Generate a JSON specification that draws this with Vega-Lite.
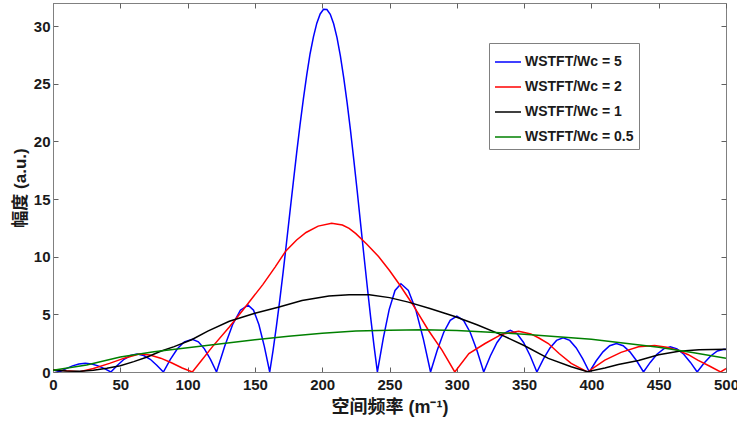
{
  "$schema": "https://vega.github.io/schema/vega-lite/v6.json",
  "autosize": {"type": "none"},
  "padding": {"left": 53, "top": 3, "right": 11, "bottom": 52},
  "width": 673,
  "height": 369,
  "background": "white",
  "config": {
    "view": {"stroke": "#808080", "strokeWidth": 1},
    "font": "Liberation Sans, Noto Sans CJK SC"
  },
  "data": {"values": [
    {"s":"5","x":0,"y":0.2},{"s":"5","x":5,"y":0.02},{"s":"5","x":9.75,"y":0.29},{"s":"5","x":14.5,"y":0.53},{"s":"5","x":19.25,"y":0.69},{"s":"5","x":24,"y":0.75},{"s":"5","x":28.75,"y":0.69},{"s":"5","x":33.5,"y":0.53},{"s":"5","x":38.25,"y":0.29},{"s":"5","x":43,"y":0},
    {"s":"5","x":47.9,"y":0.59},{"s":"5","x":52.75,"y":1.1},{"s":"5","x":57.6,"y":1.43},{"s":"5","x":62.5,"y":1.55},{"s":"5","x":67.4,"y":1.43},{"s":"5","x":72.25,"y":1.1},{"s":"5","x":77.1,"y":0.59},{"s":"5","x":82,"y":0},
    {"s":"5","x":87.2,"y":1.09},{"s":"5","x":92.4,"y":2.01},{"s":"5","x":97.6,"y":2.62},{"s":"5","x":103.5,"y":2.84},{"s":"5","x":108,"y":2.62},{"s":"5","x":112.5,"y":2.01},{"s":"5","x":117,"y":1.09},{"s":"5","x":121.5,"y":0},
    {"s":"5","x":127.5,"y":2.22},{"s":"5","x":133.4,"y":4.1},{"s":"5","x":139.2,"y":5.36},{"s":"5","x":145,"y":5.8},{"s":"5","x":149,"y":5.36},{"s":"5","x":153,"y":4.1},{"s":"5","x":157,"y":2.22},{"s":"5","x":161,"y":0},
    {"s":"5","x":163.5,"y":1.88},{"s":"5","x":166,"y":3.97},{"s":"5","x":168.5,"y":6.26},{"s":"5","x":171,"y":8.69},{"s":"5","x":173.5,"y":11.23},{"s":"5","x":176,"y":13.85},{"s":"5","x":178.5,"y":16.42},{"s":"5","x":181,"y":18.98},{"s":"5","x":183.5,"y":21.41},{"s":"5","x":186,"y":23.67},{"s":"5","x":188.5,"y":25.75},{"s":"5","x":191,"y":27.6},{"s":"5","x":193.5,"y":29.06},{"s":"5","x":196,"y":30.25},{"s":"5","x":198.5,"y":31.05},{"s":"5","x":201,"y":31.45},{"s":"5","x":203.5,"y":31.44},{"s":"5","x":206,"y":31.02},{"s":"5","x":208.5,"y":30.2},{"s":"5","x":211,"y":29.0},{"s":"5","x":213.5,"y":27.41},{"s":"5","x":216,"y":25.5},{"s":"5","x":218.5,"y":23.36},{"s":"5","x":221,"y":20.97},{"s":"5","x":223.5,"y":18.38},{"s":"5","x":226,"y":15.7},{"s":"5","x":228.5,"y":12.89},{"s":"5","x":231,"y":10.1},{"s":"5","x":233.5,"y":7.37},{"s":"5","x":236,"y":4.74},{"s":"5","x":238.5,"y":2.27},{"s":"5","x":241,"y":0},
    {"s":"5","x":245.4,"y":2.93},{"s":"5","x":249.75,"y":5.41},{"s":"5","x":254.1,"y":7.07},{"s":"5","x":258.5,"y":7.65},{"s":"5","x":264,"y":7.07},{"s":"5","x":269.5,"y":5.41},{"s":"5","x":275,"y":2.93},{"s":"5","x":280.5,"y":0},
    {"s":"5","x":285.4,"y":1.86},{"s":"5","x":290.25,"y":3.43},{"s":"5","x":295.1,"y":4.48},{"s":"5","x":300,"y":4.85},{"s":"5","x":305,"y":4.48},{"s":"5","x":310,"y":3.43},{"s":"5","x":315,"y":1.86},{"s":"5","x":320,"y":0},
    {"s":"5","x":324.9,"y":1.39},{"s":"5","x":329.9,"y":2.56},{"s":"5","x":334.8,"y":3.34},{"s":"5","x":339.75,"y":3.62},{"s":"5","x":344.7,"y":3.34},{"s":"5","x":349.6,"y":2.56},{"s":"5","x":354.6,"y":1.39},{"s":"5","x":359.5,"y":0},
    {"s":"5","x":364.4,"y":1.13},{"s":"5","x":369.25,"y":2.09},{"s":"5","x":374.1,"y":2.74},{"s":"5","x":379,"y":2.96},{"s":"5","x":383.9,"y":2.74},{"s":"5","x":388.75,"y":2.09},{"s":"5","x":393.6,"y":1.13},{"s":"5","x":398.5,"y":0},
    {"s":"5","x":403.5,"y":0.95},{"s":"5","x":408.6,"y":1.75},{"s":"5","x":413.6,"y":2.28},{"s":"5","x":418.6,"y":2.47},{"s":"5","x":423.6,"y":2.28},{"s":"5","x":428.6,"y":1.75},{"s":"5","x":433.7,"y":0.95},{"s":"5","x":438.7,"y":0},
    {"s":"5","x":443.7,"y":0.83},{"s":"5","x":448.7,"y":1.54},{"s":"5","x":453.7,"y":2.01},{"s":"5","x":458.65,"y":2.18},{"s":"5","x":463.6,"y":2.01},{"s":"5","x":468.6,"y":1.54},{"s":"5","x":473.6,"y":0.83},{"s":"5","x":478.6,"y":0},
    {"s":"5","x":483.6,"y":0.75},{"s":"5","x":488.6,"y":1.39},{"s":"5","x":493.6,"y":1.82},{"s":"5","x":498.6,"y":1.97},{"s":"5","x":500,"y":1.96},

    {"s":"2","x":0,"y":0.2},{"s":"2","x":10,"y":0.1},{"s":"2","x":20,"y":0.03},{"s":"2","x":30,"y":0.3},{"s":"2","x":42,"y":0.75},{"s":"2","x":53,"y":1.2},{"s":"2","x":64,"y":1.55},{"s":"2","x":72,"y":1.48},{"s":"2","x":80,"y":1.2},{"s":"2","x":88,"y":0.8},{"s":"2","x":96,"y":0.35},{"s":"2","x":103.5,"y":0},
    {"s":"2","x":110,"y":0.95},{"s":"2","x":118.5,"y":2.2},{"s":"2","x":131,"y":3.9},{"s":"2","x":141,"y":5.35},{"s":"2","x":156,"y":7.6},{"s":"2","x":165,"y":9.1},{"s":"2","x":173,"y":10.5},{"s":"2","x":181,"y":11.45},{"s":"2","x":188,"y":12.1},{"s":"2","x":197,"y":12.65},{"s":"2","x":207,"y":12.9},{"s":"2","x":215,"y":12.75},{"s":"2","x":220,"y":12.45},{"s":"2","x":225,"y":12.0},{"s":"2","x":233,"y":11.1},{"s":"2","x":242,"y":10.0},{"s":"2","x":250,"y":8.8},{"s":"2","x":257,"y":7.65},{"s":"2","x":267,"y":5.9},{"s":"2","x":279,"y":3.6},{"s":"2","x":289,"y":1.9},{"s":"2","x":298.5,"y":0},
    {"s":"2","x":309,"y":1.6},{"s":"2","x":321,"y":2.47},{"s":"2","x":333.5,"y":3.28},{"s":"2","x":346,"y":3.53},{"s":"2","x":355,"y":3.3},{"s":"2","x":361,"y":2.95},{"s":"2","x":368,"y":2.47},{"s":"2","x":376,"y":1.6},{"s":"2","x":385,"y":0.75},{"s":"2","x":397,"y":0},
    {"s":"2","x":410,"y":1.03},{"s":"2","x":422,"y":1.7},{"s":"2","x":435,"y":2.18},{"s":"2","x":447,"y":2.3},{"s":"2","x":456,"y":2.15},{"s":"2","x":464,"y":1.9},{"s":"2","x":472,"y":1.5},{"s":"2","x":479,"y":1.03},{"s":"2","x":488,"y":0.5},{"s":"2","x":496,"y":0},{"s":"2","x":500,"y":0.3},

    {"s":"1","x":0,"y":0.15},{"s":"1","x":10,"y":0.08},{"s":"1","x":20,"y":0.06},{"s":"1","x":30,"y":0.15},{"s":"1","x":40,"y":0.33},{"s":"1","x":50,"y":0.55},{"s":"1","x":60,"y":0.9},{"s":"1","x":70,"y":1.3},{"s":"1","x":80,"y":1.8},{"s":"1","x":90,"y":2.2},{"s":"1","x":103,"y":2.8},{"s":"1","x":115,"y":3.55},{"s":"1","x":131,"y":4.4},{"s":"1","x":150,"y":5.1},{"s":"1","x":168,"y":5.63},{"s":"1","x":185,"y":6.2},{"s":"1","x":205,"y":6.6},{"s":"1","x":220,"y":6.7},{"s":"1","x":235,"y":6.7},{"s":"1","x":250,"y":6.45},{"s":"1","x":264,"y":6.06},{"s":"1","x":280,"y":5.5},{"s":"1","x":298,"y":4.83},{"s":"1","x":315,"y":4.1},{"s":"1","x":331,"y":3.33},{"s":"1","x":350,"y":2.3},{"s":"1","x":368,"y":1.18},{"s":"1","x":385,"y":0.45},{"s":"1","x":397,"y":0.03},{"s":"1","x":410,"y":0.35},{"s":"1","x":420,"y":0.65},{"s":"1","x":435,"y":1.0},{"s":"1","x":450,"y":1.5},{"s":"1","x":465,"y":1.8},{"s":"1","x":480,"y":1.93},{"s":"1","x":500,"y":1.98},

    {"s":"0.5","x":0,"y":0.15},{"s":"0.5","x":25,"y":0.6},{"s":"0.5","x":50,"y":1.3},{"s":"0.5","x":75,"y":1.75},{"s":"0.5","x":100,"y":2.1},{"s":"0.5","x":125,"y":2.45},{"s":"0.5","x":150,"y":2.8},{"s":"0.5","x":175,"y":3.1},{"s":"0.5","x":200,"y":3.35},{"s":"0.5","x":225,"y":3.55},{"s":"0.5","x":250,"y":3.63},{"s":"0.5","x":275,"y":3.66},{"s":"0.5","x":300,"y":3.6},{"s":"0.5","x":325,"y":3.45},{"s":"0.5","x":350,"y":3.28},{"s":"0.5","x":375,"y":3.05},{"s":"0.5","x":400,"y":2.85},{"s":"0.5","x":425,"y":2.5},{"s":"0.5","x":450,"y":2.15},{"s":"0.5","x":475,"y":1.7},{"s":"0.5","x":500,"y":1.2}
  ]},
  "layer": [
    {
      "mark": {"type": "line", "strokeWidth": 1.5, "clip": true},
      "encoding": {
        "x": {"field": "x", "type": "quantitative",
          "scale": {"domain": [0, 500], "nice": false, "zero": false},
          "axis": {"values": [0,50,100,150,200,250,300,350,400,450,500], "title": "空间频率 (m⁻¹)",
            "labelFont": "Liberation Sans", "labelFontSize": 15, "labelFontWeight": "bold", "labelColor": "#1a1a1a",
            "tickSize": -5, "tickColor": "#606060", "labelPadding": 10, "domainColor": "#808080", "grid": false,
            "titleFont": "Liberation Sans, Noto Sans CJK SC", "titleFontSize": 18, "titleFontWeight": "bold", "titleColor": "#1a1a1a",
            "titleBaseline": "middle", "titleY": 35, "labelFlush": false}},
        "y": {"field": "y", "type": "quantitative",
          "scale": {"domain": [0, 32], "nice": false},
          "axis": {"values": [0,5,10,15,20,25,30], "title": "幅度 (a.u.)",
            "labelFont": "Liberation Sans", "labelFontSize": 15, "labelFontWeight": "bold", "labelColor": "#1a1a1a",
            "tickSize": -5, "tickColor": "#606060", "labelPadding": 8, "domainColor": "#808080", "grid": false,
            "titleFont": "Liberation Sans, Noto Sans CJK SC", "titleFontSize": 17, "titleFontWeight": "bold", "titleColor": "#1a1a1a",
            "titleBaseline": "middle", "titleX": -33, "labelFlush": false}},
        "color": {"field": "s", "type": "nominal",
          "scale": {"domain": ["5", "2", "1", "0.5"], "range": ["#0000FF", "#FF0000", "#000000", "#008000"]},
          "legend": {"orient": "none", "legendX": 436, "legendY": 40, "title": null,
            "strokeColor": "#808080", "fillColor": "white", "padding": 5,
            "symbolType": "stroke", "symbolSize": 676, "symbolStrokeWidth": 1.5,
            "labelFont": "Liberation Sans", "labelFontSize": 14, "labelFontWeight": "bold", "labelColor": "#1a1a1a",
            "labelOffset": 3, "rowPadding": 4,
            "labelExpr": "'WSTFT/Wc = ' + datum.label"}}
      }
    },
    {
      "mark": {"type": "line", "opacity": 0},
      "encoding": {
        "x": {"field": "x", "type": "quantitative",
          "axis": {"orient": "top", "values": [0,50,100,150,200,250,300,350,400,450,500], "labels": false, "title": null,
            "tickSize": -5, "tickColor": "#606060", "domain": false, "grid": false}},
        "y": {"field": "y", "type": "quantitative",
          "axis": {"orient": "right", "values": [0,5,10,15,20,25,30], "labels": false, "title": null,
            "tickSize": -5, "tickColor": "#606060", "domain": false, "grid": false}}
      }
    }
  ],
  "resolve": {"axis": {"x": "independent", "y": "independent"}}
}
